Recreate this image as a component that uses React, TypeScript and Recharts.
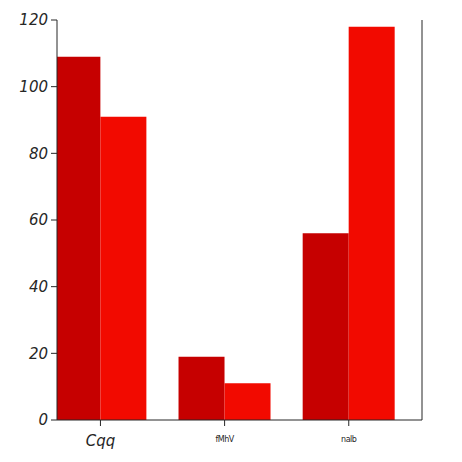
import { Bar, BarChart, XAxis, YAxis } from "recharts";

const categories = ["Cqq", "fMhV", "nalb"];
const darkValues = [109, 19, 56];
const brightValues = [91, 11, 118];
const yTicks = [0, 20, 40, 60, 80, 100, 120];
const xTicks = [0, 1, 2];

const data = categories.map((name, i) => ({
  pos: i,
  name,
  dark: darkValues[i],
  bright: brightValues[i],
}));

const XTick = (props: any) => {
  const { x, y, payload } = props;
  const label = categories[payload.value];
  const big = label === "Cqq";
  return (
    <text
      x={x}
      y={y + (big ? 18 : 14)}
      textAnchor="middle"
      fill="#262626"
      fontFamily="DejaVu Sans"
      fontStyle={big ? "italic" : "normal"}
      fontSize={big ? 15 : 8}
      letterSpacing={big ? 0 : -0.5}
    >
      {label}
    </text>
  );
};

const xDomain = [-0.35, 2.59];

function App() {
  return (
    <div style={{ position: "absolute", left: 0, top: 0, background: "#fff" }}>
      <BarChart
        width={462}
        height={462}
        data={data}
        margin={{ top: 20, right: 20, left: 0, bottom: 0 }}
        barGap={0}
      >
        <XAxis
          type="number"
          dataKey="pos"
          domain={xDomain}
          ticks={xTicks}
          tick={<XTick />}
          tickSize={6}
          stroke="#262626"
          height={42}
          allowDataOverflow
        />
        <XAxis
          xAxisId="top"
          orientation="top"
          type="number"
          dataKey="pos"
          domain={xDomain}
          ticks={xTicks}
          tick={false}
          tickSize={5}
          stroke="#262626"
          height={0}
          allowDataOverflow
        />
        <YAxis
          domain={[0, 120]}
          ticks={yTicks}
          width={57}
          tickSize={6}
          stroke="#262626"
          tick={{ fill: "#262626", fontSize: 15, fontStyle: "italic", fontFamily: "DejaVu Sans" }}
          tickMargin={3}
        />
        <YAxis
          yAxisId="right"
          orientation="right"
          domain={[0, 120]}
          ticks={yTicks}
          width={20}
          tickSize={6}
          tick={false}
          stroke="#262626"
        />
        <Bar dataKey="dark" fill="#c60000" barSize={46} isAnimationActive={false} />
        <Bar dataKey="bright" fill="#f20a00" barSize={46} isAnimationActive={false} />
      </BarChart>
    </div>
  );
}

export default App;
